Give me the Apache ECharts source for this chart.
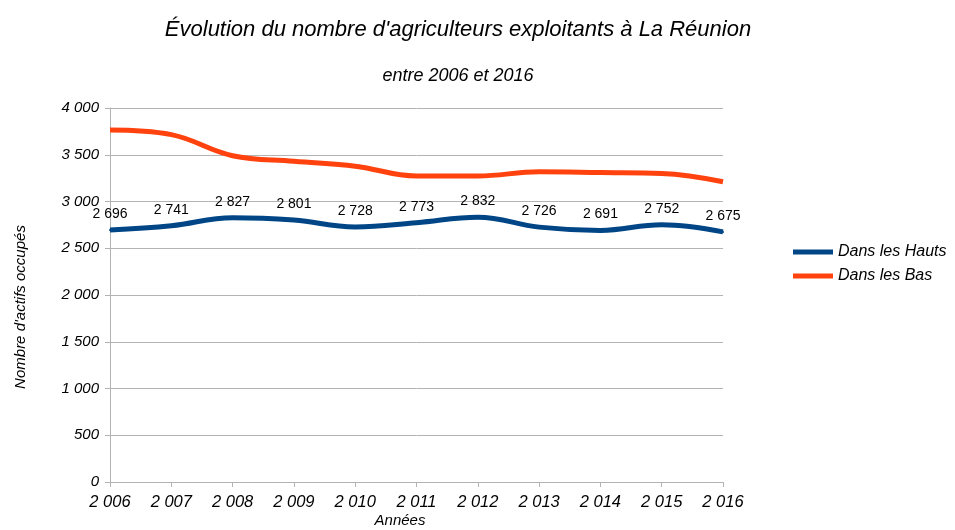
<!DOCTYPE html>
<html>
<head>
<meta charset="utf-8">
<script src="https://cdn.jsdelivr.net/npm/echarts@6/dist/echarts.min.js"></script>
<style>
  html, body { margin: 0; padding: 0; background: #fff; }
  #chart { width: 955px; height: 530px; }
</style>
</head>
<body>
<div id="chart"></div>
<script>
// Années couvertes
const years = [2006, 2007, 2008, 2009, 2010, 2011, 2012, 2013, 2014, 2015, 2016];
// Agriculteurs exploitants dans les Hauts
const hauts = [2696, 2741, 2827, 2801, 2728, 2773, 2832, 2726, 2691, 2752, 2675];
// Agriculteurs exploitants dans les Bas
const bas = [3765, 3715, 3490, 3430, 3378, 3273, 3273, 3318, 3310, 3300, 3212];
const seriesNames = ['Dans les Hauts', 'Dans les Bas'];

// Séparateur de milliers à la française (espace)
const fmt = v => String(v).replace(/\B(?=(\d{3})+(?!\d))/g, ' ');

const italic = (size) => ({ fontFamily: 'Liberation Sans', fontStyle: 'italic', fontWeight: 'normal', fontSize: size, color: '#000' });

const chart = echarts.init(document.getElementById('chart'), null, { renderer: 'canvas' });
chart.setOption({
  animation: false,
  backgroundColor: '#fff',
  title: [
    {
      text: "Évolution du nombre d'agriculteurs exploitants à La Réunion",
      left: 453, top: 14, textAlign: 'center',
      textStyle: italic(22)
    },
    {
      text: 'entre 2006 et 2016',
      left: 453, top: 62, textAlign: 'center',
      textStyle: italic(18)
    }
  ],
  legend: {
    orient: 'vertical',
    left: 788, top: 239,
    icon: 'rect',
    itemWidth: 40, itemHeight: 5,
    itemGap: 8,
    data: seriesNames,
    textStyle: italic(16)
  },
  grid: { left: 110, right: 232, top: 108, bottom: 48, containLabel: false, outerBoundsMode: 'none' },
  xAxis: {
    type: 'category',
    data: years,
    boundaryGap: false,
    axisLine: { lineStyle: { color: '#b3b3b3', width: 1 } },
    axisTick: { show: true, alignWithLabel: true, length: 5, lineStyle: { color: '#b3b3b3' } },
    axisLabel: Object.assign({ formatter: v => fmt(v), margin: 12, interval: 0 }, italic(16.5)),
    splitLine: { show: false }
  },
  yAxis: {
    type: 'value',
    min: 0, max: 4000, interval: 500,
    axisLine: { show: true, lineStyle: { color: '#b3b3b3', width: 1 } },
    axisTick: { show: true, length: 5, lineStyle: { color: '#b3b3b3' } },
    axisLabel: Object.assign({ formatter: v => fmt(v), margin: 11 }, italic(15)),
    splitLine: { show: true, lineStyle: { color: '#b3b3b3', width: 1 } }
  },
  graphic: [
    {
      type: 'text',
      x: 400, y: 521,
      style: { text: 'Années', x: 0, y: 0, align: 'center', verticalAlign: 'middle',
        font: 'italic 15px "Liberation Sans"', fill: '#000' }
    },
    {
      type: 'text',
      x: 21, y: 307, rotation: Math.PI / 2,
      style: { text: "Nombre d'actifs occupés", x: 0, y: 0, align: 'center', verticalAlign: 'middle',
        font: 'italic 15px "Liberation Sans"', fill: '#000' }
    }
  ],
  series: [
    {
      name: seriesNames[0],
      type: 'line',
      data: hauts,
      smooth: 0.4,
      symbol: 'circle',
      symbolSize: 2,
      showSymbol: true,
      color: '#004586',
      itemStyle: { color: '#004586' },
      lineStyle: { width: 5, color: '#004586' },
      label: {
        show: true, position: 'top', distance: 8,
        formatter: p => fmt(p.value),
        fontFamily: 'Liberation Sans', fontSize: 14, color: '#000'
      },
      z: 3
    },
    {
      name: seriesNames[1],
      type: 'line',
      data: bas,
      smooth: 0.4,
      symbol: 'none',
      color: '#ff420e',
      lineStyle: { width: 5, color: '#ff420e' },
      z: 2
    }
  ]
});
</script>
</body>
</html>
